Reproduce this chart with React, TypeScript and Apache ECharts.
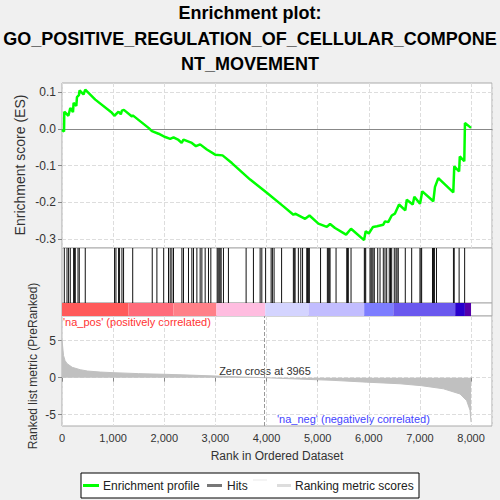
import { useEffect, useRef } from 'react';
import * as echarts from 'echarts';

// running enrichment score
const esRank = [0, 40, 45, 125, 162, 215, 227, 280, 293, 330, 344, 420, 455, 651, 977, 1025, 1106, 1150, 1172, 1210, 1368, 1385, 1692, 1759, 1888, 2019, 2116, 2181, 2279, 2340, 2376, 2540, 2620, 2702, 2833, 2996, 3140, 3322, 3680, 4006, 4331, 4526, 4560, 4755, 4840, 5015, 5179, 5243, 5340, 5556, 5653, 5907, 5940, 6000, 6083, 6160, 6284, 6318, 6380, 6449, 6510, 6592, 6714, 6743, 6860, 6891, 7002, 7047, 7262, 7295, 7360, 7653, 7672, 7767, 7780, 7868, 7881, 8000];
const esScore = [-0.003, -0.007, 0.047, 0.036, 0.057, 0.046, 0.071, 0.063, 0.087, 0.092, 0.105, 0.094, 0.107, 0.08, 0.044, 0.036, 0.047, 0.04, 0.05, 0.052, 0.034, 0.037, 0.003, -0.006, -0.013, -0.022, -0.027, -0.023, -0.03, -0.038, -0.029, -0.038, -0.047, -0.042, -0.056, -0.07, -0.072, -0.093, -0.138, -0.174, -0.211, -0.234, -0.231, -0.245, -0.236, -0.258, -0.267, -0.259, -0.27, -0.288, -0.272, -0.303, -0.279, -0.285, -0.267, -0.265, -0.261, -0.252, -0.254, -0.236, -0.231, -0.206, -0.222, -0.193, -0.206, -0.185, -0.204, -0.17, -0.197, -0.158, -0.134, -0.173, -0.102, -0.116, -0.075, -0.088, 0.016, 0.003];

// gene set members in the ranked list
const hitRanks = [45, 98, 129, 162, 227, 246, 260, 313, 338, 455, 1028, 1055, 1106, 1126, 1172, 1204, 1383, 1765, 1856, 1989, 2083, 2116, 2149, 2181, 2345, 2376, 2474, 2540, 2572, 2638, 2702, 2736, 2800, 2865, 2911, 3035, 3054, 3074, 3093, 3113, 3158, 3255, 3601, 3744, 3875, 3908, 3982, 4090, 4115, 4148, 4295, 4525, 4543, 4559, 4623, 4670, 4705, 4787, 4803, 4819, 4838, 5057, 5190, 5209, 5227, 5243, 5360, 5569, 5585, 5600, 5653, 5913, 5926, 5940, 6024, 6044, 6063, 6083, 6108, 6175, 6220, 6284, 6317, 6350, 6401, 6425, 6448, 6499, 6532, 6552, 6577, 6714, 6839, 7001, 7021, 7034, 7246, 7265, 7284, 7324, 7656, 7671, 7767, 7875];

// ranked list metric
const metricRank = [0, 30, 60, 100, 200, 357, 500, 750, 1000, 1500, 2050, 2500, 3030, 3500, 3965, 4500, 5300, 5950, 6610, 7030, 7460, 7785, 7915, 7980, 8000];
const metricValue = [5.1, 3.0, 2.3, 1.9, 1.4, 1.08, 0.9, 0.76, 0.68, 0.55, 0.45, 0.35, 0.22, 0.1, 0, -0.15, -0.36, -0.6, -0.82, -1.08, -1.5, -2.2, -3.1, -4.4, -6.0];

// colour bar bands
const bandEdges = [0, 1300, 2180, 3020, 3975, 4820, 5910, 6480, 7690, 7880, 8000];
const bandColors = ['#ff5a5a', '#ff6b7a', '#ff8088', '#ffbde0', '#d4d4ff', '#c2bdff', '#7d7dff', '#6a58ee', '#2800cc', '#5500aa'];

const esTicks = [-0.3, -0.2, -0.1, 0, 0.1];
const metricTicks = [-5, 0, 5];
const zeroCross = 3965;
const nGenes = 8000;

const FONT = 'Liberation Sans, Arial, sans-serif';
const comma = (v: number) => String(v).replace(/\B(?=(\d{3})+(?!\d))/g, ',');

const App = () => {
  const chartRef = useRef<HTMLDivElement>(null);

  useEffect(() => {
    if (!chartRef.current) return;
    const myChart = echarts.init(chartRef.current, undefined, { renderer: 'svg' });

    const gridBase = { left: 62, right: 8, show: true, borderColor: '#aaa', backgroundColor: '#fff', borderWidth: 1 };
    const dashed = { show: true, lineStyle: { color: '#ddd', type: 'dashed' as const, width: 1 } };
    const xBase = { type: 'value' as const, min: 0, max: 8410, interval: 1000 };

    const bands = bandColors.map((c, i) => [bandEdges[i], bandEdges[i + 1], i]);

    const option = {
      animation: false,
      backgroundColor: '#f0f0f0',
      textStyle: { fontFamily: FONT },
      grid: [
        { ...gridBase, top: 83, height: 165 },
        { ...gridBase, top: 248, height: 55 },
        { ...gridBase, top: 303, height: 13 },
        { ...gridBase, top: 316, height: 110 },
      ],
      xAxis: [
        {
          ...xBase, gridIndex: 0,
          axisLine: { show: true, onZero: true, lineStyle: { color: '#888', width: 1 } },
          axisTick: { show: false }, axisLabel: { show: false }, splitLine: dashed,
        },
        { ...xBase, gridIndex: 1, axisLine: { show: false }, axisTick: { show: false }, axisLabel: { show: false }, splitLine: { show: false } },
        { ...xBase, gridIndex: 2, axisLine: { show: false }, axisTick: { show: false }, axisLabel: { show: false }, splitLine: { show: false } },
        {
          ...xBase, gridIndex: 3,
          axisLine: { show: false },
          axisTick: { show: true, length: 4, lineStyle: { color: '#888' } },
          axisLabel: { show: true, fontSize: 11, color: '#333', showMaxLabel: false, formatter: (v: number) => comma(v), margin: 6 },
          splitLine: dashed,
        },
      ],
      yAxis: [
        {
          type: 'value', gridIndex: 0, min: -0.3245, max: 0.1253,
          axisLine: { show: false },
          axisTick: { show: true, length: 4, customValues: esTicks, lineStyle: { color: '#888' } },
          axisLabel: { fontSize: 12, color: '#333', customValues: esTicks, formatter: (v: number) => v.toFixed(1), margin: 6 },
          splitLine: dashed,
        },
        { type: 'value', gridIndex: 1, min: 0, max: 1, show: false },
        { type: 'value', gridIndex: 2, min: 0, max: 1, show: false },
        {
          type: 'value', gridIndex: 3, min: -6.53, max: 8.34,
          axisLine: { show: false },
          axisTick: { show: true, length: 4, customValues: metricTicks, lineStyle: { color: '#888' } },
          axisLabel: { fontSize: 12, color: '#333', customValues: metricTicks, margin: 6 },
          splitLine: dashed,
        },
      ],
      series: [
        {
          name: 'Enrichment profile', type: 'line', xAxisIndex: 0, yAxisIndex: 0,
          data: esRank.map((r, i) => [r, esScore[i]]),
          showSymbol: false, lineStyle: { color: '#00ff00', width: 2.5 }, itemStyle: { color: '#00ff00' },
          z: 5,
        },
        {
          name: 'Hits', type: 'custom', xAxisIndex: 1, yAxisIndex: 1,
          data: hitRanks.map((r) => [r]),
          renderItem: (_p: any, api: any) => {
            const x = api.coord([api.value(0), 0])[0];
            const top = api.coord([0, 1])[1];
            const bottom = api.coord([0, 0])[1];
            return { type: 'line', shape: { x1: x, y1: top, x2: x, y2: bottom }, style: { stroke: '#111', lineWidth: 1 } };
          },
        },
        {
          name: 'bar', type: 'custom', xAxisIndex: 2, yAxisIndex: 2,
          data: bands,
          renderItem: (_p: any, api: any) => {
            const a = api.coord([api.value(0), 1]);
            const b = api.coord([api.value(1), 0]);
            return { type: 'rect', shape: { x: a[0], y: a[1], width: b[0] - a[0], height: b[1] - a[1] }, style: { fill: bandColors[api.value(2)] } };
          },
        },
        {
          name: 'Ranking metric scores', type: 'line', xAxisIndex: 3, yAxisIndex: 3,
          data: metricRank.map((r, i) => [r, metricValue[i]]),
          showSymbol: false, lineStyle: { color: '#c0c0c0', width: 1 }, areaStyle: { color: '#c0c0c0', opacity: 1 },
          markLine: {
            silent: true, symbol: 'none', label: { show: false },
            lineStyle: { color: '#999', type: 'dashed', width: 1 },
            data: [{ xAxis: zeroCross }],
          },
        },
      ],
      graphic: [
        { type: 'text', x: 250, y: 13, style: { text: 'Enrichment plot:', font: `bold 18px ${FONT}`, fill: '#000', align: 'center', verticalAlign: 'middle' } },
        { type: 'text', x: 250, y: 38.5, style: { text: 'GO_POSITIVE_REGULATION_OF_CELLULAR_COMPONE', font: `bold 18px ${FONT}`, fill: '#000', align: 'center', verticalAlign: 'middle' } },
        { type: 'text', x: 250, y: 64, style: { text: 'NT_MOVEMENT', font: `bold 18px ${FONT}`, fill: '#000', align: 'center', verticalAlign: 'middle' } },
        { type: 'text', x: 20, y: 165, rotation: Math.PI / 2, style: { text: 'Enrichment score (ES)', font: `14px ${FONT}`, fill: '#333', align: 'center', verticalAlign: 'middle' } },
        { type: 'text', x: 33, y: 366, rotation: Math.PI / 2, style: { text: 'Ranked list metric (PreRanked)', font: `12px ${FONT}`, fill: '#333', align: 'center', verticalAlign: 'middle' } },
        { type: 'text', x: 277, y: 456, style: { text: 'Rank in Ordered Dataset', font: `12px ${FONT}`, fill: '#333', align: 'center', verticalAlign: 'middle' } },
        { type: 'text', x: 265, y: 371, style: { text: `Zero cross at ${zeroCross}`, font: `11px ${FONT}`, fill: '#333', align: 'center', verticalAlign: 'middle' } },
        { type: 'text', x: 63, y: 322, style: { text: "'na_pos' (positively correlated)", font: `11px ${FONT}`, fill: '#ff3333', align: 'left', verticalAlign: 'middle' } },
        { type: 'text', x: 277, y: 419, style: { text: "'na_neg' (negatively correlated)", font: `11px ${FONT}`, fill: '#4444ff', align: 'left', verticalAlign: 'middle' } },
        // legend box
        { type: 'rect', shape: { x: 81, y: 473, width: 338, height: 25 }, style: { fill: '#fff', stroke: '#000', lineWidth: 1 } },
        { type: 'line', shape: { x1: 83, y1: 485.5, x2: 99, y2: 485.5 }, style: { stroke: '#00ff00', lineWidth: 3 } },
        { type: 'text', x: 103, y: 485.5, style: { text: 'Enrichment profile', font: `12px ${FONT}`, fill: '#222', verticalAlign: 'middle' } },
        { type: 'line', shape: { x1: 207, y1: 485.5, x2: 222, y2: 485.5 }, style: { stroke: '#777', lineWidth: 3 } },
        { type: 'text', x: 227, y: 485.5, style: { text: 'Hits', font: `12px ${FONT}`, fill: '#222', verticalAlign: 'middle' } },
        { type: 'line', shape: { x1: 253, y1: 480, x2: 267, y2: 480 }, style: { stroke: '#f4f4f4', lineWidth: 2 } },
        { type: 'line', shape: { x1: 277, y1: 485.5, x2: 291, y2: 485.5 }, style: { stroke: '#ddd', lineWidth: 3 } },
        { type: 'text', x: 295, y: 485.5, style: { text: 'Ranking metric scores', font: `12px ${FONT}`, fill: '#222', verticalAlign: 'middle' } },
      ],
    };

    myChart.setOption(option as any);

    return () => {
      myChart.dispose();
    };
  }, []);

  return <div ref={chartRef} style={{ position: 'fixed', left: 0, top: 0, width: 500, height: 500 }} data-n={nGenes} />;
};

export default App;
